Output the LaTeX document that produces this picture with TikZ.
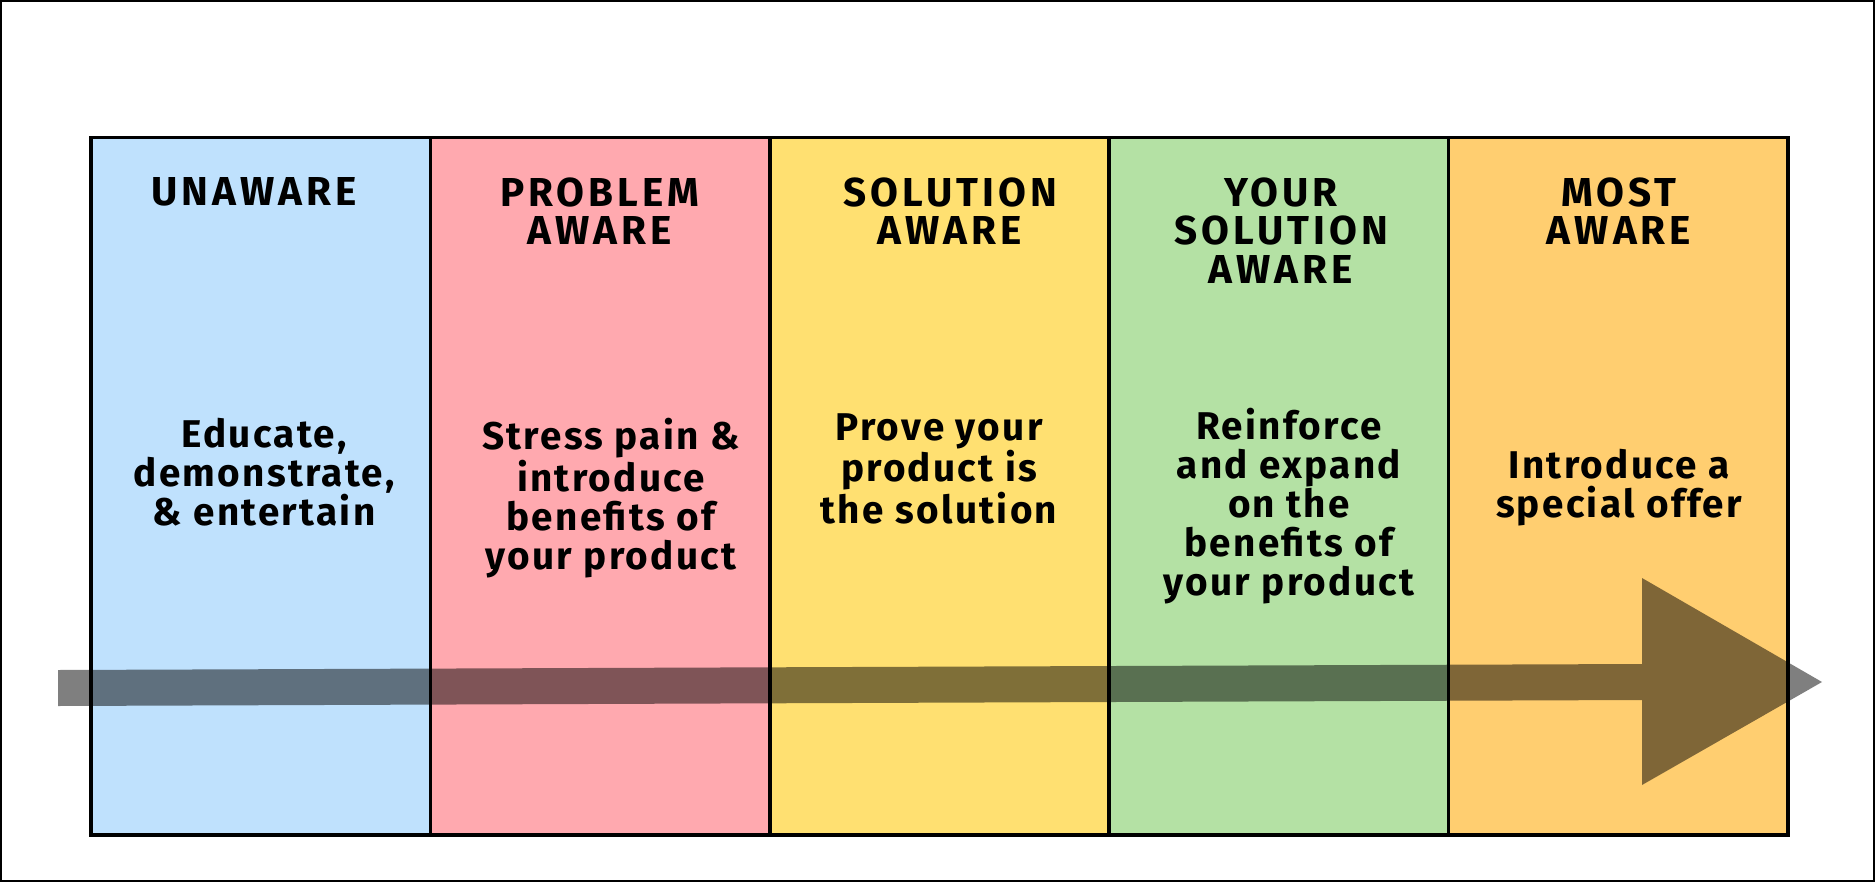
\documentclass[tikz,border=0pt]{standalone}
\usepackage{fontspec}
\setmainfont{Fira Sans}
\newfontfamily\headfont[LetterSpace=10]{Fira Sans}
\newfontfamily\bodyfont[LetterSpace=6]{Fira Sans}
\usetikzlibrary{calc}

\definecolor{unawarecol}{HTML}{BFE1FD}
\definecolor{problemcol}{HTML}{FFA9AF}
\definecolor{solutioncol}{HTML}{FFE071}
\definecolor{yourscol}{HTML}{B4E1A4}
\definecolor{mostcol}{HTML}{FFCE70}

\begin{document}
\begin{tikzpicture}[x=0.02cm,y=-0.02cm,
    head/.style={anchor=north,inner sep=0pt,align=center,
      font=\headfont\bfseries\fontsize{23}{22}\selectfont},
    body/.style={anchor=north,inner sep=0pt,align=center,
      font=\bodyfont\bfseries\fontsize{22}{22.2}\selectfont}]
    \useasboundingbox (0,0) rectangle (1875,882);
    \draw[line width=1.1pt] (1,1) rectangle (1874,881);
    % columns
    \foreach \c [count=\i from 0] in {unawarecol,problemcol,solutioncol,yourscol,mostcol}
      \fill[\c] ({91+339.4*\i},137.5) rectangle ++(339.4,697.5);
    \draw[line width=2pt] (91,137.5) rectangle (1788,835);
    \foreach \i in {1,...,4}
      \draw[line width=2pt] ({91+339.4*\i},137.5) -- ++(0,697.5);
    % headings
    \node[head] (h1) at (254,177) {UNAWARE};
    \node[head] (h2) at (600,177) {PROBLEM\\AWARE};
    \node[head] (h3) at (950,177) {SOLUTION\\AWARE};
    \node[head] (h4) at (1281,177) {YOUR\\SOLUTION\\AWARE};
    \node[head] (h5) at (1619,177) {MOST\\AWARE};
    % actions
    \node[body] (b1) at (264,418) {Educate,\\demonstrate,\\\& entertain};
    \node[body] (b2) at (611,418) {Stress pain \&\\introduce\\benefits of\\your product};
    \node[body] (b3) at (939,413) {Prove your\\product is\\the solution};
    \node[body] (b4) at (1289,408) {Reinforce\\and expand\\on the\\benefits of\\your product};
    \node[body] (b5) at (1619,449) {Introduce a\\special offer};
    % arrow
    \fill[black,fill opacity=0.5] (58,670) -- (1642,664) -- (1642,578) -- (1822,682)
      -- (1642,785) -- (1642,700) -- (58,706) -- cycle;
\end{tikzpicture}
\end{document}
